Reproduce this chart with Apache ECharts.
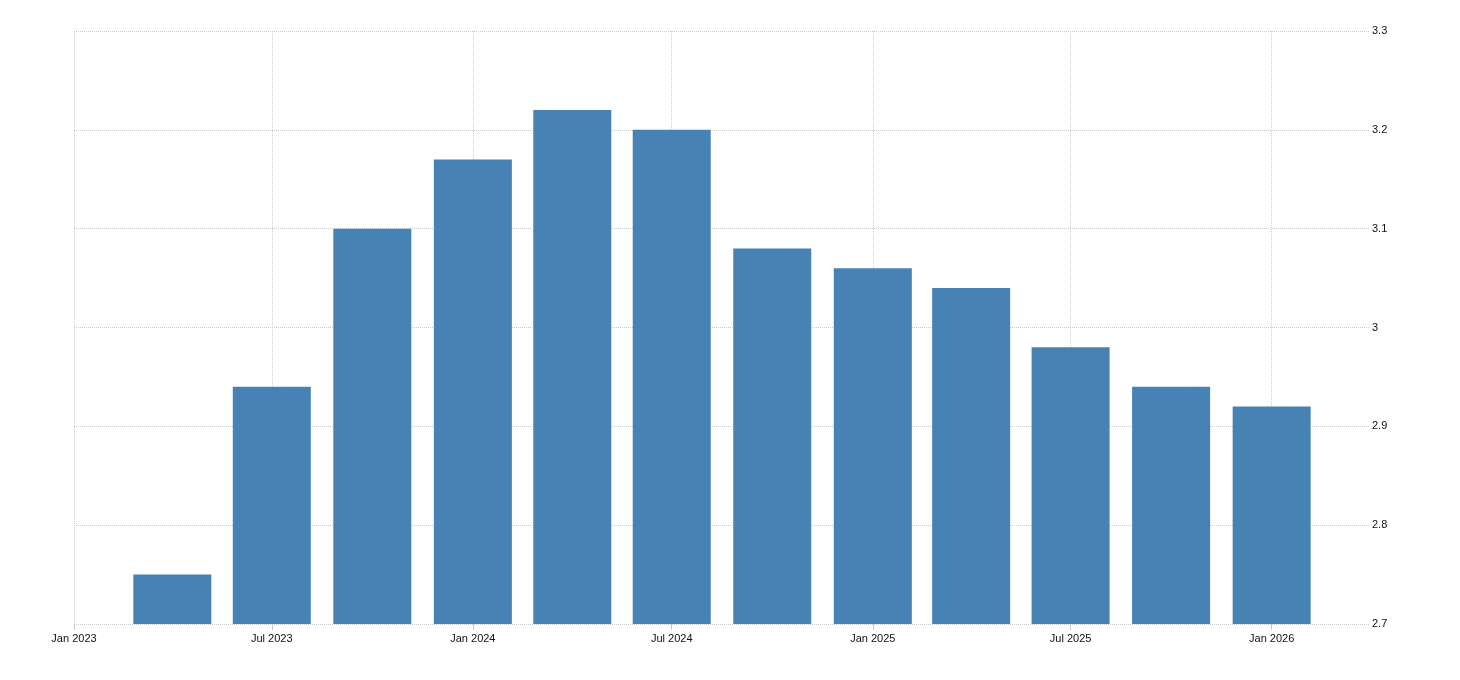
<!DOCTYPE html>
<html>
<head>
<meta charset="utf-8">
<script src="https://cdn.jsdelivr.net/npm/echarts@6/dist/echarts.min.js"></script>
<style>
html,body{margin:0;padding:0;background:#fff;}
#chart{width:1460px;height:680px;}
</style>
</head>
<body>
<div id="chart"></div>
<script>
// Quarter dates (year, month 1-based) and values
const periods = [[2023,4],[2023,7],[2023,10],[2024,1],[2024,4],[2024,7],[2024,10],[2025,1],[2025,4],[2025,7],[2025,10],[2026,1]];
const values = [2.75, 2.94, 3.10, 3.17, 3.22, 3.20, 3.08, 3.06, 3.04, 2.98, 2.94, 2.92];
const tickDates = [[2023,1],[2023,7],[2024,1],[2024,7],[2025,1],[2025,7],[2026,1]];
const tickLabels = ['Jan 2023','Jul 2023','Jan 2024','Jul 2024','Jan 2025','Jul 2025','Jan 2026'];
const yTicks = ['2.7','2.8','2.9','3','3.1','3.2','3.3'];

const ts = (p) => new Date(p[0], p[1]-1, 1).getTime();
const tickTs = tickDates.map(ts);
const labelMap = {};
tickTs.forEach((t,i)=>{ labelMap[t] = tickLabels[i]; });

const chart = echarts.init(document.getElementById('chart'));
chart.setOption({
  animation:false,
  grid:{left:74,right:90,top:31,bottom:56,containLabel:false},
  xAxis:{
    type:'value',
    min: ts([2023,1]),
    max: ts([2026,4]),
    axisLine:{show:false},
    axisTick:{show:true,length:6,lineStyle:{color:'#c8c8c8'},customValues:tickTs},
    axisLabel:{customValues:tickTs,formatter:(v)=>labelMap[v]||'',color:'#111',fontSize:11,fontFamily:'Liberation Sans, Arial, sans-serif',margin:9},
    splitLine:{show:true,lineStyle:{color:'#cccccc',type:'dotted',width:1}}
  },
  yAxis:{
    type:'value',
    position:'right',
    min:2.7,max:3.3,interval:0.1,
    axisLine:{show:false},
    axisTick:{show:false},
    axisLabel:{color:'#111',fontSize:11,fontFamily:'Liberation Sans, Arial, sans-serif',margin:2,
      formatter:(v)=>{const i=Math.round((v-2.7)*10);return yTicks[i]!==undefined?yTicks[i]:'';}},
    splitLine:{show:true,lineStyle:{color:'#cccccc',type:'dotted',width:1}}
  },
  series:[{
    type:'bar',
    barWidth:78,
    itemStyle:{color:'#4682b4'},
    data: periods.map((p,i)=>[ts(p), values[i]])
  }]
});
</script>
</body>
</html>
